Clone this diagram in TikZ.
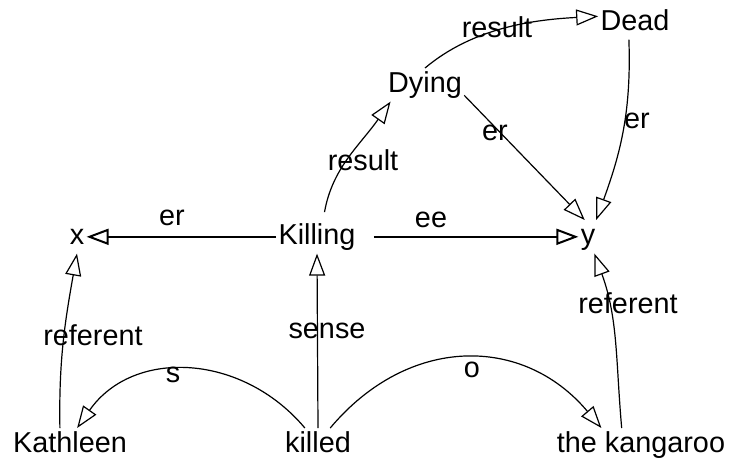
\documentclass[tikz,border=0pt]{standalone}
\usepackage{fontspec}
\setmainfont{Liberation Sans}
\usetikzlibrary{arrows.meta}
\tikzset{
    word/.style={font=\fontsize{14.4}{17}\selectfont, text height=10.8pt, text depth=3.6pt, inner sep=1pt, anchor=base},
    lbl/.style={font=\fontsize{14.4}{17}\selectfont, inner sep=0pt, anchor=base},
    rel/.style={line width=0.6pt, -{Triangle[open,length=11pt,width=8pt]}}
}
\begin{document}
\begin{tikzpicture}[x=0.5pt,y=0.5pt]
                \useasboundingbox (0,0) rectangle (733,-462);
                \node[word] (x) at (77,-244){x};
                \node[word] (killing) at (317,-244){Killing};
                \node[word] (y) at (588,-244){y};
                \node[word] (dying) at (425,-92){Dying};
                \node[word] (dead) at (635,-30){Dead};
                \node[word] (kathleen) at (70,-452){Kathleen};
                \node[word] (killed) at (318,-452){killed};
                \node[word] (kangaroo) at (641,-452){the kangaroo};

                \node[lbl] (er1) at (172,-225){er};
                \node[lbl] (ee) at (431,-227){ee};
                \node[lbl] (result1) at (363,-170){result};
                \node[lbl] (result2) at (497,-37){result};
                \node[lbl] (er2) at (495,-140){er};
                \node[lbl] (er3) at (637,-128){er};
                \node[lbl] (referent1) at (93,-345){referent};
                \node[lbl] (sense) at (327,-338){sense};
                \node[lbl] (s) at (173,-382){s};
                \node[lbl] (referent2) at (628,-313){referent};
                \node[lbl] (o) at (472,-377){o};

                \draw[rel, line width=1pt] (killing.west) -- (x.east);
                \draw[rel, line width=1pt] ([xshift=8pt]killing.east) -- (y.west);
                \draw[rel, shorten <=4pt] (killing.70) to[out=80,in=-125] (dying.206);
                \draw[rel] (dying.north) to[out=40,in=183,looseness=0.9] (dead.170);
                \draw[rel] (dying.-15) -- (y.101);
                \draw[rel] (dead.-110) to[out=-88,in=70] (y.64);
                \draw[rel] (killed.north) -- (killing.south);
                \draw[rel] (kathleen.121) to[out=91,in=-100] (x.south);
                \draw[rel] (kangaroo.139) to[out=95,in=-70] (y.-69);
                \draw[rel] (killed.128) to[out=130,in=55,looseness=1.1] (kathleen.67);
                \draw[rel] (killed.54) to[out=50,in=130,looseness=1.15] (kangaroo.157);
            \end{tikzpicture}
\end{document}
